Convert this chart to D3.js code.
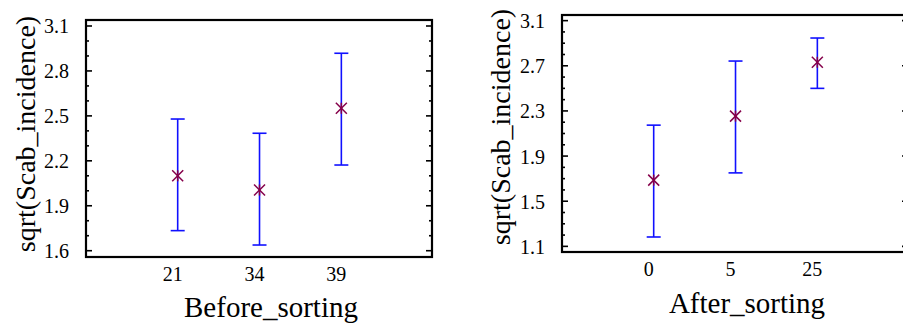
<!DOCTYPE html>
<html>
<head>
<meta charset="utf-8">
<script src="https://cdn.jsdelivr.net/npm/d3@7"></script>
</head>
<body style="margin:0;padding:0;background:#fff">
<svg id="chart" width="903" height="331" style="display:block"></svg>
<script>
// Means plot of sqrt(Scab_incidence) with intervals, before and after sorting
const beforeCategories = ["21", "34", "39"];
const beforeMeans = [2.10, 2.005, 2.551];
const beforeLower = [1.734, 1.638, 2.172];
const beforeUpper = [2.479, 2.384, 2.918];
const beforeTicks = [1.6, 1.9, 2.2, 2.5, 2.8, 3.1];

const afterCategories = ["0", "5", "25"];
const afterMeans = [1.687, 2.254, 2.731];
const afterLower = [1.183, 1.751, 2.50];
const afterUpper = [2.174, 2.742, 2.946];
const afterTicks = [1.1, 1.5, 1.9, 2.3, 2.7, 3.1];

const yTitle = "sqrt(Scab_incidence)";
const SERIF = "'Liberation Serif'";

const svg = d3.select("#chart");

function drawPanel(opts) {
  const { left, top, width, height, yDomain, ticks, minorStep,
          categories, means, lower, upper, xTitle, tickLabelY, xTitleY, yTitleX, yTitleMid } = opts;
  const g = svg.append("g");

  const x = d3.scaleLinear().domain([0, 1]).range([left, left + width]);
  const xPos = i => x(0.265 + i * 0.2365);
  const y = d3.scaleLinear().domain(yDomain).range([top + height, top]);

  // minor + major ticks on left and right borders, pointing inward
  const minor = d3.range(Math.ceil(yDomain[0] / minorStep), Math.floor(yDomain[1] / minorStep) + 1)
    .map(k => +(k * minorStep).toFixed(2));
  const isMajor = v => ticks.some(t => Math.abs(t - v) < 1e-6);

  const tg = g.append("g").attr("stroke", "#000").attr("stroke-width", 1.6);
  minor.forEach(v => {
    const len = isMajor(v) ? 6 : 3;
    tg.append("line").attr("x1", left).attr("x2", left + len).attr("y1", y(v)).attr("y2", y(v));
    tg.append("line").attr("x1", left + width).attr("x2", left + width - len).attr("y1", y(v)).attr("y2", y(v));
  });

  // y tick labels
  const yAxis = d3.axisLeft(y).tickValues(ticks).tickSize(0).tickPadding(17)
    .tickFormat(d3.format(".1f"));
  const ya = g.append("g").attr("transform", `translate(${left},0)`).call(yAxis);
  ya.select(".domain").remove();
  ya.selectAll("text").attr("fill", "#000").attr("dy", "0.35em")
    .style("font-family", SERIF).style("font-size", "20px");

  // x tick labels
  categories.forEach((c, i) => {
    g.append("text").attr("x", xPos(i) - 5).attr("y", tickLabelY)
      .attr("text-anchor", "middle")
      .style("font-family", SERIF).style("font-size", "20px").text(c);
  });

  // frame
  g.append("rect").attr("x", left).attr("y", top).attr("width", width).attr("height", height)
    .attr("fill", "none").attr("stroke", "#000").attr("stroke-width", 2.2);

  // interval bars
  const bars = g.append("g").attr("stroke", "#1010ff").attr("stroke-width", 1.6);
  categories.forEach((c, i) => {
    const cx = xPos(i);
    bars.append("line").attr("x1", cx).attr("x2", cx).attr("y1", y(lower[i])).attr("y2", y(upper[i]));
    bars.append("line").attr("x1", cx - 7).attr("x2", cx + 7).attr("y1", y(lower[i])).attr("y2", y(lower[i]));
    bars.append("line").attr("x1", cx - 7).attr("x2", cx + 7).attr("y1", y(upper[i])).attr("y2", y(upper[i]));
  });

  // mean markers (asterisk)
  const marks = g.append("g").attr("stroke", "#85004a").attr("stroke-width", 1.5);
  means.forEach((m, i) => {
    const cx = xPos(i), cy = y(m), r = 5.5;
    marks.append("line").attr("x1", cx - r).attr("x2", cx + r).attr("y1", cy - r).attr("y2", cy + r);
    marks.append("line").attr("x1", cx - r).attr("x2", cx + r).attr("y1", cy + r).attr("y2", cy - r);
    marks.append("line").attr("x1", cx).attr("x2", cx).attr("y1", cy - r).attr("y2", cy + r);
  });

  // axis titles
  g.append("text").attr("x", left + 185).attr("y", xTitleY).attr("text-anchor", "middle")
    .style("font-family", SERIF).style("font-size", "29px").text(xTitle);
  g.append("text")
    .attr("transform", `translate(${yTitleX},${yTitleMid}) rotate(-90)`)
    .attr("text-anchor", "middle")
    .style("font-family", SERIF).style("font-size", "28px").text(yTitle);
}

drawPanel({
  left: 86, top: 20, width: 346, height: 237,
  yDomain: [1.558, 3.14], ticks: beforeTicks, minorStep: 0.1,
  categories: beforeCategories, means: beforeMeans, lower: beforeLower, upper: beforeUpper,
  xTitle: "Before_sorting", tickLabelY: 281, xTitleY: 317, yTitleX: 35, yTitleMid: 134
});

drawPanel({
  left: 562, top: 15, width: 346, height: 237,
  yDomain: [1.05, 3.15], ticks: afterTicks, minorStep: 0.1,
  categories: afterCategories, means: afterMeans, lower: afterLower, upper: afterUpper,
  xTitle: "After_sorting", tickLabelY: 276, xTitleY: 313, yTitleX: 510, yTitleMid: 127
});
</script>
</body>
</html>
